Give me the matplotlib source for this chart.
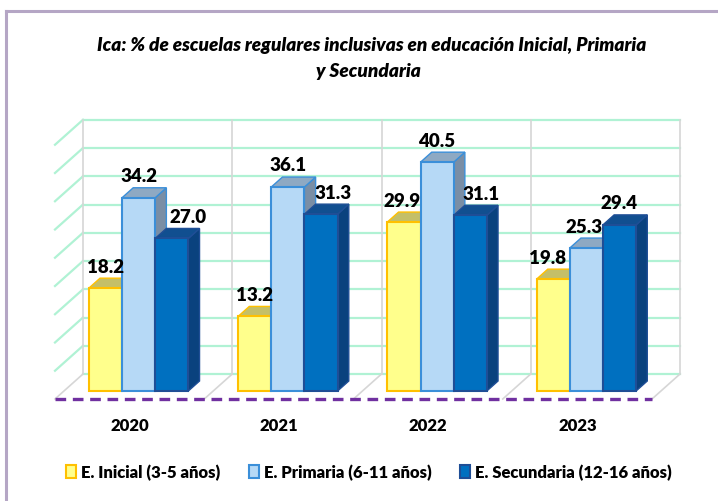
import matplotlib
matplotlib.use("Agg")
import matplotlib.pyplot as plt
from matplotlib.patches import Polygon, Patch
from matplotlib.lines import Line2D

# data
years = ["2020", "2021", "2022", "2023"]
series = ["E. Inicial (3-5 años)", "E. Primaria (6-11 años)", "E. Secundaria (12-16 años)"]
inicial = [18.2, 13.2, 29.9, 19.8]
primaria = [34.2, 36.1, 40.5, 25.3]
secundaria = [27.0, 31.3, 31.1, 29.4]
values = [inicial, primaria, secundaria]

front_col = ["#ffff8c", "#b6d9f6", "#0070c0"]
edge_col = ["#ffc000", "#3b8fd9", "#1f4e96"]
top_col = ["#c4bf68", "#8ea9c3", "#114f90"]
side_col = ["#a9a552", "#7a8ea5", "#0a427e"]

# hand nudges of some value labels (pixels), as in the original
label_dx = [[0, 0, -2, -6], [0, 0, 0, -2], [16, 12, 11, 0]]

FONT = ["Lato", "DejaVu Sans"]
plt.rcParams["font.family"] = FONT
W = "heavy"

# pseudo 3d geometry (depth offset expressed in axis units)
PX_CAT = 149.25
PX_VAL = 5.65
ZX = 28 / PX_CAT   # category units per unit of depth
ZY = 25 / PX_VAL   # value units per unit of depth
Z_FRONT = 0.32
Z_BACK = 0.72
YMAX = 45
bar_w = 2 / 9


def proj(x, v, z):
    return (x + z * ZX, v + z * ZY)


fig = plt.figure(figsize=(7.18, 5.02), dpi=100)
ax = fig.add_axes([0, 0, 1, 1])
ax.set_xlim(-55 / PX_CAT, (718 - 55) / PX_CAT)
ax.set_ylim(-(502 - 400) / PX_VAL, 400 / PX_VAL)
ax.axis("off")

ncat = len(years)
grid_green = "#b0f2d4"
wall_gray = "#d6d6d6"

# back wall and left wall gridlines
for g in range(0, YMAX + 1, 5):
    xa, ya = proj(0, g, 1)
    xb, yb = proj(ncat, g, 1)
    ax.plot([xa, xb], [ya, yb], color=grid_green, lw=1.6, zorder=1)
    if g > 0:
        xf, yf = proj(0, g, 0)
        ax.plot([xf, xa], [yf, ya], color=grid_green, lw=1.6, zorder=1)

# back wall verticals and floor diagonals
for k in range(ncat + 1):
    xa, ya = proj(k, 0, 1)
    xb, yb = proj(k, YMAX, 1)
    ax.plot([xa, xb], [ya, yb], color=wall_gray, lw=1.2, zorder=1.1)
    xf, yf = proj(k, 0, 0)
    ax.plot([xf, xa], [yf, ya], color=wall_gray, lw=1.2, zorder=1.1)

# dashed front edge of the floor
ax.plot([0, ncat], [0, 0], color="#7030a0", lw=2.4, ls=(0, (3.2, 2.0)), zorder=1.5)

# bars
for i, vals in enumerate(values):
    x0s = [k + 1 / 6 + i * bar_w for k in range(ncat)]
    base = 2 + i
    for x0, v in zip(x0s, vals):
        x1 = x0 + bar_w
        side = [proj(x1, 0, Z_FRONT), proj(x1, v, Z_FRONT), proj(x1, v, Z_BACK), proj(x1, 0, Z_BACK)]
        top = [proj(x0, v, Z_FRONT), proj(x1, v, Z_FRONT), proj(x1, v, Z_BACK), proj(x0, v, Z_BACK)]
        ax.add_patch(Polygon(side, closed=True, facecolor=side_col[i], edgecolor=edge_col[i],
                             lw=1.0, zorder=base))
        ax.add_patch(Polygon(top, closed=True, facecolor=top_col[i], edgecolor=edge_col[i],
                             lw=1.0, zorder=base + 0.1))
    fx = [x + Z_FRONT * ZX for x in x0s]
    ax.bar(fx, vals, width=bar_w, bottom=Z_FRONT * ZY, align="edge",
           facecolor=front_col[i], edgecolor=edge_col[i], lw=1.5, zorder=base + 0.2)
    for x, v, dx in zip(fx, vals, label_dx[i]):
        ax.text(x + bar_w / 2 + dx / PX_CAT, v + Z_FRONT * ZY + 3.9, f"{v:.1f}",
                ha="center", va="center", fontsize=13.5, fontweight=W, color="black", zorder=10)

# category labels
for k, y in enumerate(years):
    ax.text(k + 0.5, -4.6, y, ha="center", va="center", fontsize=12,
            fontweight=W, color="black")

# title
fig.text(372 / 718, 1 - 45 / 502,
         "Ica: % de escuelas regulares inclusivas en educación Inicial, Primaria",
         ha="center", va="center", fontsize=13.7, fontweight=W, style="italic")
fig.text(368 / 718, 1 - 72 / 502, "y Secundaria",
         ha="center", va="center", fontsize=13.7, fontweight=W, style="italic")

# legend
handles = [Patch(facecolor=front_col[i], edgecolor=edge_col[i], lw=1.5) for i in range(3)]
fig.legend(handles, series, loc="center", bbox_to_anchor=(369 / 718, 1 - 473 / 502),
           ncol=3, frameon=False, prop={"family": FONT, "weight": W, "size": 12},
           handlelength=0.6, handleheight=0.9, handletextpad=0.3, columnspacing=1.7)

# outer frame
frame = "#b5a6c5"
fig.add_artist(Line2D([6 / 718, 1], [1 - 12 / 502, 1 - 12 / 502], color=frame, lw=2.2,
                      transform=fig.transFigure))
fig.add_artist(Line2D([6 / 718, 6 / 718], [0, 1 - 12 / 502], color=frame, lw=2.2,
                      transform=fig.transFigure))

fig.savefig("out.png", dpi=100)
